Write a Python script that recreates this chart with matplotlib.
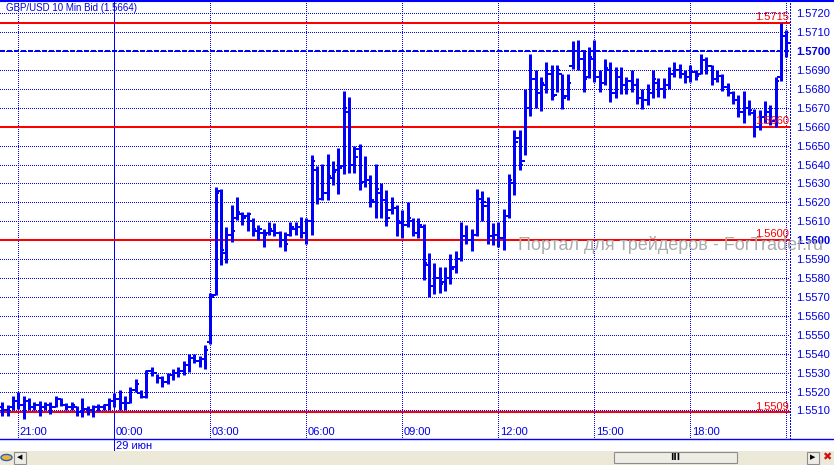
import numpy as np
import matplotlib
matplotlib.use("Agg")
import matplotlib.pyplot as plt
import matplotlib.transforms as mtransforms
from matplotlib.collections import LineCollection
from matplotlib.lines import Line2D
from matplotlib.patches import Rectangle, Circle

# GBP/USD, 10-minute bid bars. Bar index 0 = 21:00 (28 июн), first bar at 20:30.
FIRST_BAR = -3

highs = [
    1.55145, 1.5513, 1.55175, 1.5520, 1.55175, 1.55165, 1.55145, 1.5515, 1.55145, 1.55145,
    1.55175, 1.55165, 1.5514, 1.55145, 1.55125, 1.55165, 1.55125, 1.5513, 1.55135, 1.55135,
    1.55165, 1.5519, 1.5521, 1.55175, 1.55225, 1.55265, 1.5521, 1.55315, 1.5533, 1.55295,
    1.5528, 1.5530, 1.5532, 1.5533, 1.5536, 1.5540, 1.5540, 1.5539, 1.55445, 1.5572,
    1.5628, 1.5627, 1.5607, 1.56185, 1.5623, 1.5615, 1.5615, 1.56115, 1.5608, 1.5606,
    1.56095, 1.5609, 1.5605, 1.56045, 1.56095, 1.56095, 1.56125, 1.5612, 1.5645, 1.5639,
    1.56405, 1.56455, 1.5642, 1.56485, 1.5679, 1.56755, 1.5650, 1.5651, 1.56445, 1.56345,
    1.56405, 1.5630, 1.56265, 1.5623, 1.56185, 1.5616, 1.5620, 1.5612, 1.5612, 1.56085,
    1.5593, 1.5588, 1.5586, 1.5586, 1.55925, 1.55945, 1.56095, 1.5608, 1.5606, 1.5627,
    1.5626, 1.5623, 1.5609, 1.56095, 1.56165, 1.5635, 1.56585, 1.5658, 1.5680, 1.56985,
    1.5690, 1.56865, 1.5694, 1.56925, 1.56925, 1.5688, 1.5688, 1.57055, 1.5706, 1.57005,
    1.5702, 1.5706, 1.5690, 1.5696, 1.5694, 1.56915, 1.56915, 1.56865, 1.5690, 1.56855,
    1.5680, 1.56825, 1.5690, 1.56855, 1.56855, 1.56915, 1.5694, 1.5693, 1.5690, 1.56925,
    1.5690, 1.56985, 1.5697, 1.56925, 1.5690, 1.5688, 1.5683, 1.5679, 1.56765, 1.5679,
    1.5674, 1.56695, 1.5669, 1.56735, 1.56715, 1.5686, 1.5715, 1.5711,
]
lows = [
    1.5507, 1.5507, 1.55105, 1.5511, 1.55055, 1.55105, 1.55105, 1.5507, 1.55105, 1.5508,
    1.5512, 1.55125, 1.55105, 1.55105, 1.5507, 1.55065, 1.55075, 1.55065, 1.55095, 1.55105,
    1.55105, 1.5512, 1.55105, 1.55105, 1.5514, 1.5520, 1.55165, 1.55165, 1.5528, 1.55245,
    1.55225, 1.5524, 1.5526, 1.55275, 1.5529, 1.55305, 1.5535, 1.5533, 1.5532, 1.5545,
    1.5571, 1.5587, 1.5588, 1.5599, 1.56105, 1.5608, 1.5605, 1.5602, 1.5600, 1.55965,
    1.56025, 1.5602, 1.55965, 1.55945, 1.5602, 1.56025, 1.5601, 1.5598, 1.56025, 1.5619,
    1.56215, 1.56215, 1.5629, 1.56245, 1.5635, 1.56355, 1.56355, 1.56265, 1.5628, 1.56175,
    1.5612, 1.5612, 1.56075, 1.5614, 1.5602, 1.5601, 1.5607, 1.5602, 1.5601, 1.5579,
    1.5570, 1.55715, 1.5572, 1.5573, 1.5577, 1.55825, 1.5589, 1.5598, 1.55945, 1.5602,
    1.5610, 1.5598, 1.55975, 1.55965, 1.5595, 1.5612, 1.5624, 1.5637, 1.5645, 1.56655,
    1.5670, 1.56685, 1.5678, 1.5674, 1.56785, 1.56695, 1.5674, 1.56905, 1.5690, 1.56785,
    1.56855, 1.56835, 1.56785, 1.5682, 1.5673, 1.5675, 1.56775, 1.56775, 1.56785, 1.5672,
    1.56695, 1.56715, 1.5675, 1.56755, 1.5675, 1.5680, 1.56865, 1.56855, 1.5683, 1.56835,
    1.56845, 1.5688, 1.5688, 1.5682, 1.56835, 1.5679, 1.5676, 1.5672, 1.5665, 1.5662,
    1.5666, 1.56545, 1.5658, 1.5662, 1.5661, 1.5660, 1.5684, 1.5697,
]
opens = [
    1.5512, 1.5510, 1.5512, 1.5515, 1.5513, 1.5515, 1.5512, 1.5513, 1.5512, 1.5513,
    1.5512, 1.5516, 1.5513, 1.5512, 1.5512, 1.5509, 1.5511, 1.5510, 1.5512, 1.5512,
    1.5513, 1.5515, 1.5516, 1.5514, 1.5514, 1.5521, 1.5519, 1.5517, 1.5531, 1.5530,
    1.5527, 1.5525, 1.5529, 1.5530, 1.5531, 1.5534, 1.5538, 1.5536, 1.5537, 1.5546,
    1.5571, 1.5626, 1.5593, 1.5603, 1.5612, 1.5614, 1.5613, 1.5610, 1.5605, 1.5604,
    1.5604, 1.5605, 1.5604, 1.5600, 1.5603, 1.5606, 1.5607, 1.5604, 1.5610, 1.5637,
    1.5622, 1.5625, 1.5633, 1.5637, 1.5639, 1.5668, 1.5640, 1.5648, 1.5631, 1.5632,
    1.5620, 1.5625, 1.5621, 1.5616, 1.5617, 1.5609, 1.5608, 1.5610, 1.5604, 1.5607,
    1.5587, 1.5576, 1.5580, 1.5578, 1.5580, 1.5586, 1.5590, 1.5602, 1.5600, 1.5603,
    1.5622, 1.5618, 1.5602, 1.5603, 1.5601, 1.5613, 1.5630, 1.5654, 1.5642, 1.5670,
    1.5685, 1.5678, 1.5682, 1.5688, 1.5677, 1.5688, 1.5676, 1.5692, 1.5700, 1.5696,
    1.5686, 1.5696, 1.5686, 1.5683, 1.5690, 1.5678, 1.5686, 1.5682, 1.5684, 1.5682,
    1.5675, 1.5674, 1.5678, 1.5683, 1.5680, 1.5682, 1.5688, 1.5690, 1.5688, 1.5686,
    1.5689, 1.5688, 1.5695, 1.5692, 1.5685, 1.5687, 1.5681, 1.5678, 1.5674, 1.5668,
    1.5670, 1.5667, 1.5660, 1.5665, 1.5668, 1.5663, 1.5686, 1.5708,
]
closes = [
    1.5510, 1.5512, 1.5515, 1.5513, 1.5515, 1.5512, 1.5513, 1.5512, 1.5513, 1.5512,
    1.5516, 1.5513, 1.5512, 1.5513, 1.5509, 1.5511, 1.5510, 1.5512, 1.5512, 1.5513,
    1.5515, 1.5516, 1.5514, 1.5514, 1.5521, 1.5524, 1.5517, 1.5531, 1.5530, 1.5527,
    1.5525, 1.5529, 1.5530, 1.5531, 1.5534, 1.5538, 1.5536, 1.5537, 1.5542, 1.5570,
    1.5625, 1.5595, 1.5603, 1.5605, 1.5615, 1.5612, 1.5614, 1.5606, 1.5606, 1.5603,
    1.5606, 1.5604, 1.5600, 1.5598, 1.5607, 1.5607, 1.5604, 1.5610, 1.5642, 1.5622,
    1.5625, 1.5634, 1.5636, 1.5638, 1.5670, 1.5640, 1.5644, 1.5630, 1.5632, 1.5621,
    1.5627, 1.5621, 1.5612, 1.5617, 1.5610, 1.5608, 1.5612, 1.5604, 1.5608, 1.5588,
    1.5576, 1.5580, 1.5577, 1.5580, 1.5585, 1.5590, 1.5602, 1.5600, 1.5603, 1.5622,
    1.5620, 1.5602, 1.5603, 1.5601, 1.5613, 1.5632, 1.5652, 1.5640, 1.5670, 1.5685,
    1.5678, 1.5683, 1.5688, 1.5676, 1.5690, 1.5675, 1.5683, 1.5700, 1.5696, 1.5685,
    1.5697, 1.5686, 1.5683, 1.5691, 1.5678, 1.5686, 1.5682, 1.5684, 1.5682, 1.5675,
    1.5674, 1.5678, 1.5685, 1.5680, 1.5682, 1.5688, 1.5690, 1.5688, 1.5686, 1.5689,
    1.5687, 1.5695, 1.5692, 1.5685, 1.5687, 1.5681, 1.5678, 1.5674, 1.5668, 1.5670,
    1.5669, 1.5660, 1.5665, 1.5668, 1.5663, 1.5684, 1.5708, 1.5704,
]
assert len(highs) == len(lows) == len(opens) == len(closes)

# time axis labels (bar index of each gridline)
time_bars = [0, 36, 54, 72, 90, 108, 126]
time_labels = ["21:00", "03:00", "06:00", "09:00", "12:00", "15:00", "18:00"]
midnight_bar = 18
midnight_label = "00:00"
date_label = "29 июн"
end_bar = 144

price_ticks = [round(1.5510 + 0.001 * i, 4) for i in range(22)]
bold_ticks = [1.5600, 1.5700]
level_lines = [1.5715, 1.5660, 1.5600, 1.5509]
current_line = 1.5700
title = "GBP/USD 10 Min Bid (1.5664)"
watermark = "Портал для трейдеров - ForTrader.ru"

BLUE = "#0000ff"
TXT = "#0000e6"
RED = "#ff0000"
FONT = "Liberation Sans"

W, H = 834, 465
fig = plt.figure(figsize=(W / 100, H / 100), dpi=100)
fig.patch.set_facecolor("white")
ax = fig.add_axes([0, 1 - 439 / H, 790 / W, 437 / H])
ax.set_xlim(-3.43, 144.7)
ax.set_ylim(1.549493, 1.572590)
ax.set_facecolor("white")

dot = (0, (1, 2))
for p in price_ticks:
    ax.axhline(p, color=BLUE, lw=0.72, ls=dot, zorder=1, antialiased=False)
for b in time_bars + [end_bar]:
    ax.axvline(b, color=BLUE, lw=0.72, ls=dot, zorder=1, antialiased=False)
ax.axvline(midnight_bar, ymin=-0.028, ymax=1, color=BLUE, lw=0.72, zorder=1,
           clip_on=False, snap=True)

# level lines
blend_r = mtransforms.blended_transform_factory(ax.transAxes, ax.transData)
for lv in level_lines:
    ax.axhline(lv, color=RED, lw=1.44, zorder=3, snap=True)
    ax.text(0.999, lv + 0.00004, f"{lv:.4f}", transform=blend_r,
            ha="right", va="bottom", color=RED, fontsize=8, family=FONT, zorder=7)
ax.axhline(current_line, color=BLUE, lw=1.44, ls=(0, (2.5, 1.0)), zorder=3, snap=True)

# OHLC bars
xs = np.arange(FIRST_BAR, FIRST_BAR + len(highs))
vert = [[(x, l), (x, h)] for x, h, l in zip(xs, highs, lows)]
left = [[(x - 0.65, o), (x, o)] for x, o in zip(xs, opens)]
right = [[(x, c), (x + 0.65, c)] for x, c in zip(xs, closes)]
bars = LineCollection(vert, colors=BLUE, linewidths=2.16, capstyle="butt", zorder=5)
bars.set_snap(True)
ticks = LineCollection(left + right, colors=BLUE, linewidths=1.44, capstyle="butt", zorder=5)
ticks.set_snap(True)
ax.add_collection(bars)
ax.add_collection(ticks)

# axes styling
ax.set_xticks([])
ax.set_yticks(price_ticks)
ax.set_yticklabels([f"{p:.4f}" for p in price_ticks])
ax.yaxis.tick_right()
ax.tick_params(axis="y", length=0, pad=4.5, labelsize=8, labelcolor=TXT)
for lab, p in zip(ax.get_yticklabels(), price_ticks):
    lab.set_family(FONT)
    if p in bold_ticks:
        lab.set_fontweight("bold")
for s in ("left", "top", "bottom"):
    ax.spines[s].set_visible(False)
ax.spines["right"].set_color(BLUE)
ax.spines["right"].set_linestyle(dot)
ax.spines["right"].set_linewidth(0.72)

tb = mtransforms.blended_transform_factory(ax.transData, ax.transAxes)
for b, lab in zip(time_bars, time_labels):
    ax.text(b + 0.3, 0.016, lab, transform=tb, ha="left", va="center", color=TXT, fontsize=8, family=FONT, zorder=6)
ax.text(midnight_bar + 0.3, 0.016, midnight_label, transform=tb, ha="left", va="center", color=TXT, fontsize=8, family=FONT, zorder=6)
ax.text(midnight_bar + 0.3, -0.016, date_label, transform=tb, ha="left", va="center", color=TXT, fontsize=8, family=FONT, clip_on=False)
ax.text(0.008, 0.986, title, transform=ax.transAxes, ha="left", va="center", color=TXT, fontsize=7, family=FONT, zorder=6)

# frame lines spanning the whole window
fig.add_artist(Line2D([0, 1], [1 - 1 / H, 1 - 1 / H], transform=fig.transFigure, color=BLUE, lw=1.5))
fig.add_artist(Line2D([0, 1], [1 - 439 / H, 1 - 439 / H], transform=fig.transFigure, color=BLUE, lw=1.0))

fig.text(518 / W, 1 - 250 / H, watermark, ha="left", va="baseline", color="#ababab", fontsize=13, family=FONT)

# scrollbar strip
def px_rect(x0, y0, w, h, **kw):
    fig.add_artist(Rectangle((x0 / W, 1 - (y0 + h) / H), w / W, h / H, transform=fig.transFigure, **kw))

px_rect(0, 451, W, 14, facecolor="#ece9d8", edgecolor="none")
px_rect(614, 451.5, 123, 11.5, facecolor="#eeede5", edgecolor="#8c8c8c", lw=0.8)
fig.text(675.5 / W, 1 - 457.5 / H, "III", ha="center", va="center", fontsize=6.5, weight="bold", color="black")
px_rect(14, 451.5, 12, 12, facecolor="#eeede5", edgecolor="#8c8c8c", lw=0.8)
fig.text(20 / W, 1 - 457.5 / H, "◀", ha="center", va="center", fontsize=5, color="black", family="DejaVu Sans")
px_rect(807, 451.5, 12, 12, facecolor="#eeede5", edgecolor="#8c8c8c", lw=0.8)
fig.text(813 / W, 1 - 457.5 / H, "▶", ha="center", va="center", fontsize=5, color="black", family="DejaVu Sans")
fig.add_artist(Circle((6.5 / W, 1 - 457.5 / H), 5.5 / W, transform=fig.transFigure, facecolor="#e8b830", edgecolor="#3060c0", lw=1))
fig.text(827 / W, 1 - 457.5 / H, "✖", ha="center", va="center", fontsize=8, color="#d01010", family="DejaVu Sans")

fig.savefig("out.png", dpi=100)
